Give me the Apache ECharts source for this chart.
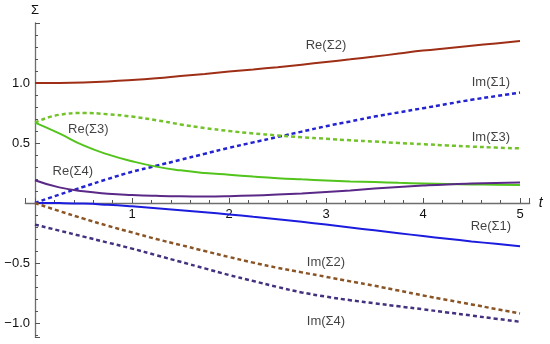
<!DOCTYPE html>
<html>
<head>
<meta charset="utf-8">
<script src="https://cdn.jsdelivr.net/npm/echarts@6/dist/echarts.min.js"></script>
<style>
html, body { margin: 0; padding: 0; background: #fff; }
#main { width: 550px; height: 344px; }
</style>
</head>
<body>
<div id="main"></div>
<script>
// t sample points
var tVals = [0, 0.25, 0.5, 0.75, 1, 1.25, 1.5, 1.75, 2, 2.25, 2.5, 2.75, 3, 3.25, 3.5, 3.75, 4, 4.25, 4.5, 4.75, 5];

// curves
var reS1 = [0, -0.001, -0.005, -0.015, -0.028, -0.043, -0.06, -0.077, -0.095, -0.115, -0.135, -0.157, -0.18, -0.204, -0.228, -0.252, -0.275, -0.298, -0.32, -0.34, -0.36];
var imS1 = [0, 0.07, 0.135, 0.2, 0.26, 0.31, 0.36, 0.41, 0.46, 0.505, 0.55, 0.595, 0.64, 0.68, 0.72, 0.755, 0.79, 0.825, 0.86, 0.89, 0.92];
var reS2 = [1.0, 1.001, 1.005, 1.013, 1.025, 1.04, 1.058, 1.076, 1.095, 1.113, 1.132, 1.153, 1.175, 1.197, 1.22, 1.245, 1.27, 1.29, 1.31, 1.33, 1.35];
var imS2 = [0, -0.067, -0.13, -0.19, -0.245, -0.3, -0.35, -0.4, -0.45, -0.497, -0.54, -0.578, -0.615, -0.653, -0.69, -0.73, -0.77, -0.808, -0.845, -0.883, -0.92];
var reS3 = [0.67, 0.58, 0.48, 0.405, 0.348, 0.303, 0.272, 0.25, 0.235, 0.22, 0.207, 0.197, 0.188, 0.18, 0.174, 0.168, 0.163, 0.159, 0.155, 0.152, 0.15];
var imS3 = [0.67, 0.735, 0.75, 0.74, 0.72, 0.69, 0.655, 0.625, 0.6, 0.58, 0.563, 0.548, 0.535, 0.523, 0.512, 0.5, 0.49, 0.48, 0.47, 0.462, 0.455];
var reS4 = [0.19, 0.13, 0.097, 0.078, 0.067, 0.06, 0.056, 0.055, 0.057, 0.062, 0.07, 0.08, 0.092, 0.105, 0.12, 0.133, 0.145, 0.155, 0.162, 0.167, 0.17];
var imS4 = [-0.18, -0.23, -0.28, -0.33, -0.38, -0.435, -0.49, -0.545, -0.6, -0.65, -0.7, -0.745, -0.78, -0.81, -0.836, -0.861, -0.886, -0.912, -0.938, -0.964, -0.99];

// curve labels and where they sit (data units)
var labelNames = ['Re(Σ2)', 'Im(Σ1)', 'Im(Σ3)', 'Re(Σ3)', 'Re(Σ4)', 'Re(Σ1)', 'Im(Σ2)', 'Im(Σ4)'];
var labelX = [3.0, 4.7, 4.7, 0.55, 0.39, 4.7, 3.0, 3.0];
var labelY = [1.31, 1.004, 0.55, 0.612, 0.262, -0.196, -0.496, -0.99];

var xTicks = [1, 2, 3, 4, 5];
var yTicks = [-1, -0.5, 0.5, 1];

function pairs(ys) {
	var out = [];
	for (var i = 0; i < tVals.length; i++) {
		out.push([tVals[i], ys[i]]);
	}
	return out;
}

function curve(name, ys, color, dashed) {
	return {
		name: name,
		type: 'line',
		data: pairs(ys),
		showSymbol: false,
		smooth: true,
		silent: true,
		lineStyle: {
			color: color,
			width: dashed ? 2.5 : 2,
			type: dashed ? [4, 3] : 'solid'
		}
	};
}

var labelData = [];
for (var k = 0; k < labelNames.length; k++) {
	labelData.push({ name: labelNames[k], value: [labelX[k], labelY[k]] });
}

var axisColor = '#6e6e6e';
var tickColor = '#555';
var fontName = 'Liberation Sans, Arial, sans-serif';

// grid box: t from -0.1 to 5.1, Σ from -1.12 to 1.5
var gridLeft = 25.3, gridRight = 20.3, gridTop = 23, gridBottom = 6.6;
// shift axes so they cross at the origin
var xAxisShift = -(344 - gridBottom - (gridTop + 1.5 * (344 - gridTop - gridBottom) / 2.62));
var yAxisShift = -(0.1 * (550 - gridLeft - gridRight) / 5.2);

var option = {
	animation: false,
	backgroundColor: '#fff',
	grid: {
		left: gridLeft,
		right: gridRight,
		top: gridTop,
		bottom: gridBottom,
		containLabel: false,
		outerBoundsMode: 'none'
	},
	xAxis: {
		type: 'value',
		min: -0.1,
		max: 5.1,
		position: 'bottom',
		offset: xAxisShift,
		name: 't',
		nameLocation: 'end',
		nameGap: 9,
		nameTextStyle: { color: '#111', fontSize: 14, fontStyle: 'italic', fontFamily: fontName },
		axisLine: { onZero: false, lineStyle: { color: axisColor, width: 1.3 } },
		axisTick: { show: true, inside: true, length: 5, lineStyle: { color: tickColor, width: 1 } },
		minorTick: { show: true, splitNumber: 5, length: 3, lineStyle: { color: tickColor, width: 1 } },
		axisLabel: {
			customValues: xTicks,
			margin: 5,
			color: '#111',
			fontSize: 13,
			fontFamily: fontName
		},
		splitLine: { show: false }
	},
	yAxis: {
		type: 'value',
		min: -1.12,
		max: 1.5,
		position: 'left',
		offset: yAxisShift,
		name: 'Σ',
		nameLocation: 'end',
		nameGap: 6,
		nameTextStyle: { color: '#111', fontSize: 13, fontFamily: fontName, align: 'center' },
		axisLine: { onZero: false, lineStyle: { color: axisColor, width: 1.3 } },
		axisTick: { show: true, inside: true, length: 5, lineStyle: { color: tickColor, width: 1 } },
		minorTick: { show: true, splitNumber: 5, length: 3, lineStyle: { color: tickColor, width: 1 } },
		axisLabel: {
			customValues: yTicks,
			margin: 5,
			color: '#111',
			fontSize: 13,
			fontFamily: fontName,
			formatter: function (v) {
				return v.toFixed(1).replace('-', '\u2212');
			}
		},
		splitLine: { show: false }
	},
	series: [
		curve('Re(Σ2)', reS2, '#9e2f16', false),
		curve('Im(Σ1)', imS1, '#2323d2', true),
		curve('Im(Σ3)', imS3, '#72c22a', true),
		curve('Re(Σ3)', reS3, '#52c41c', false),
		curve('Re(Σ4)', reS4, '#5a2887', false),
		curve('Re(Σ1)', reS1, '#1c1cde', false),
		curve('Im(Σ2)', imS2, '#8a5424', true),
		curve('Im(Σ4)', imS4, '#43307e', true),
		{
			type: 'scatter',
			data: labelData,
			symbolSize: 0,
			silent: true,
			z: 5,
			label: {
				show: true,
				position: 'inside',
				formatter: '{b}',
				color: '#111',
				fontSize: 13,
				fontFamily: fontName
			}
		}
	]
};

var chart = echarts.init(document.getElementById('main'));
chart.setOption(option);
</script>
</body>
</html>
